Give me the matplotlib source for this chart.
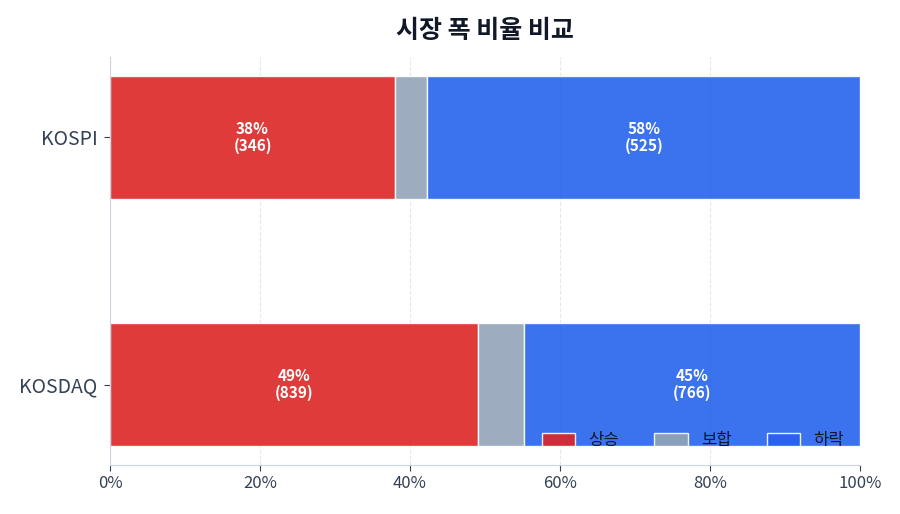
import matplotlib.pyplot as plt
import numpy as np

plt.rcParams['font.family'] = ['Noto Sans CJK KR', 'DejaVu Sans']

# data
markets = ["KOSPI", "KOSDAQ"]
up = np.array([346, 839])
flat = np.array([39, 103])
down = np.array([525, 766])
series_names = ["상승", "보합", "하락"]
colors = ["#dc2626", "#94a3b8", "#2563eb"]

total = up + flat + down
shares = [up / total * 100, flat / total * 100, down / total * 100]
counts = [up, flat, down]

fig = plt.figure(figsize=(9, 5.14), dpi=100)
ax = fig.add_axes([0.1222, 0.0953, 0.8334, 0.7937])

y = np.arange(len(markets))
left = np.zeros(len(markets))
for name, share, cnt, color in zip(series_names, shares, counts, colors):
    ax.barh(y, share, left=left, height=0.5, color=color, alpha=0.9,
            edgecolor="white", linewidth=1, label=name)
    if name != "보합":
        for yi, l, s, c in zip(y, left, share, cnt):
            ax.text(l + s / 2, yi, f"{s:.0f}%\n({c})", ha="center", va="center",
                    color="white", fontsize=11, fontweight="bold", linespacing=1.1)
    left = left + share

ax.set_yticks(y)
ax.set_yticklabels(markets, fontsize=14, color="#334155")
ax.invert_yaxis()
ax.set_xlim(0, 100)
ax.set_xticks([0, 20, 40, 60, 80, 100])
ax.set_xticklabels([f"{v}%" for v in [0, 20, 40, 60, 80, 100]], fontsize=12, color="#334155")
ax.tick_params(axis="both", color="#334155", length=4)
ax.tick_params(axis="y", pad=5)

ax.grid(axis="x", linestyle="--", color="#e5e7eb", linewidth=0.8)
ax.set_axisbelow(True)
for s in ["top", "right"]:
    ax.spines[s].set_visible(False)
for s in ["left", "bottom"]:
    ax.spines[s].set_color("#cbd5e1")

ax.legend(loc="lower right", ncol=3, frameon=False, fontsize=12,
          handlelength=2.0, handleheight=0.8, handletextpad=0.8,
          columnspacing=2.1, borderaxespad=0.55, labelcolor="#111827")

ax.set_title("시장 폭 비율 비교", fontsize=18, fontweight="bold", color="#111827", pad=14)

plt.savefig("out.png", dpi=100)
